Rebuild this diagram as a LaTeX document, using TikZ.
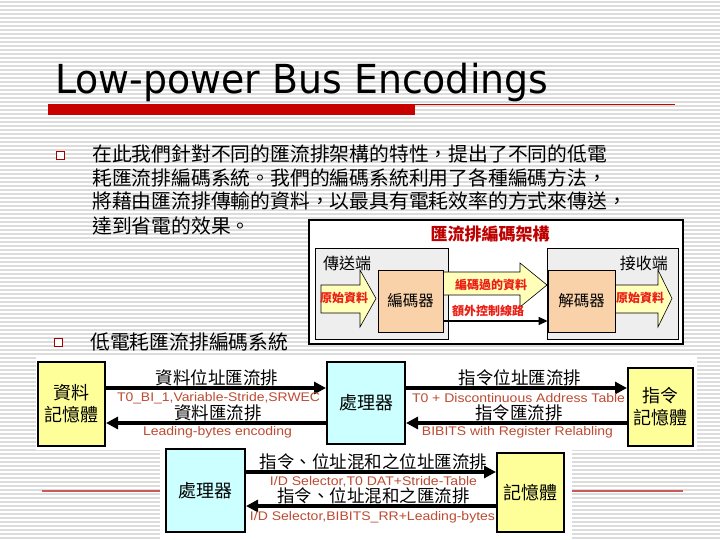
\documentclass[tikz,border=0pt]{standalone}
\usepackage{fontspec}
\usepackage{graphicx}
\setmainfont{Liberation Sans}
\newfontfamily\cjk{Noto Sans CJK TC}
\newfontfamily\titlefont{DejaVu Sans}
\usetikzlibrary{arrows.meta}
\definecolor{stripe}{RGB}{220,220,220}
\definecolor{barred}{RGB}{200,0,0}
\definecolor{lbl}{RGB}{190,75,50}
\definecolor{ylw}{RGB}{255,255,153}
\definecolor{cyn}{RGB}{204,255,255}
\definecolor{peach}{RGB}{250,210,170}
\definecolor{pgray}{RGB}{238,238,238}
\definecolor{arrowy}{RGB}{255,255,185}
\definecolor{hred}{RGB}{235,30,20}
\definecolor{titred}{RGB}{190,0,0}
\definecolor{strayred}{RGB}{200,90,90}
\newcommand{\fitw}[2]{\resizebox{#1}{\height}{#2}}
\tikzset{
  para/.style={anchor=west, inner sep=0, font=\cjk\fontsize{19.8}{22}\selectfont},
  cjkt/.style={inner sep=0, font=\cjk\fontsize{17.5}{21}\selectfont},
  lat/.style={inner sep=0, text=lbl, font=\fontsize{12.5}{14}\selectfont},
  bus/.style={line width=4pt, -{Triangle[length=12pt,width=12pt]}},
  ybox/.style={draw, line width=2pt, fill=ylw, align=center, inner sep=0, font=\cjk\fontsize{18}{22}\selectfont},
  cbox/.style={draw, line width=2pt, fill=cyn, align=center, inner sep=0, font=\cjk\fontsize{18}{22}\selectfont},
  gbox/.style={draw, line width=0.8pt, fill=pgray, inner sep=0},
  pbox/.style={draw, line width=0.8pt, fill=peach, inner sep=0, font=\cjk\fontsize{15.5}{18}\selectfont},
  blk/.style={draw, line width=0.6pt, fill=arrowy},
  hlbl/.style={inner sep=0, text=hred, font=\cjk\bfseries\fontsize{12}{14}\selectfont},
  sq/.style={draw=barred!80!black, line width=0.7pt, fill=white, minimum size=8pt, inner sep=0},
}
\begin{document}
\begin{tikzpicture}[x=1pt,y=-1pt]
\useasboundingbox (0,0) rectangle (720,540);
% background with stripes
\fill[white] (0,0) rectangle (720,540);
\foreach \i in {0,...,134} \draw[stripe, line width=1.3pt] (0,\i*4+2) -- (720,\i*4+2);
% stray red line
\draw[strayred, line width=1.2pt] (42,491) -- (683,491);
% white backgrounds of lower diagram
\fill[white] (36,357) rectangle (697,450);
\fill[white] (160,450) rectangle (572,540);

% title
\node[anchor=base west, inner sep=0] (title) at (55,94)
  {\titlefont\fontsize{40}{44}\selectfont\fitw{493pt}{Low-power Bus Encodings}};
\draw[barred, line width=1pt] (48,104.5) -- (675,104.5);
\fill[barred] (48,105) rectangle (415,115);

% bullets and text
\node[sq] (b1) at (60,155) {};
\node[para] (p1) at (92,154) {在此我們針對不同的匯流排架構的特性，提出了不同的低電};
\node[para] (p2) at (92,177.5) {耗匯流排編碼系統。我們的編碼系統利用了各種編碼方法，};
\node[para] (p3) at (92,201) {將藉由匯流排傳輸的資料，以最具有電耗效率的方式來傳送，};
\node[para] (p4) at (92,226) {達到省電的效果。};
\node[sq] (b2) at (58,342.5) {};
\node[para] (p5) at (90,342) {低電耗匯流排編碼系統};

% upper diagram
\node[draw, line width=1.2pt, fill=white, minimum width=374pt, minimum height=124pt, inner sep=0] (outer) at (496,282) {};
\node[inner sep=0, text=titred, font=\cjk\bfseries\fontsize{17}{20}\selectfont] (arch) at (490,234) {匯流排編碼架構};
\node[gbox, minimum width=133pt, minimum height=91pt] (send) at (381.5,293.5) {};
\node[gbox, minimum width=131pt, minimum height=91pt] (recv) at (612.5,293.5) {};
\node[anchor=west, inner sep=0, font=\cjk\fontsize{16}{18}\selectfont] (sendt) at (323,263) {傳送端};
\node[anchor=east, inner sep=0, font=\cjk\fontsize{16}{18}\selectfont] (recvt) at (668,263) {接收端};
\draw[blk] (321,285) -- (360,285) -- (360,270) -- (376,298.5) -- (360,327) -- (360,313) -- (321,313) -- cycle;
\draw[blk] (443,272) -- (520,272) -- (520,263) -- (547,285) -- (520,307) -- (520,295) -- (443,295) -- cycle;
\draw[blk] (615,285) -- (658,285) -- (658,270) -- (672,298.5) -- (658,327) -- (658,313) -- (615,313) -- cycle;
\node[pbox, minimum width=65pt, minimum height=62pt] (enc) at (410.5,301) {編碼器};
\node[pbox, minimum width=67pt, minimum height=62pt] (dec) at (581.5,301) {解碼器};
\node[hlbl] (raw1) at (344,298) {原始資料};
\node[hlbl] (raw2) at (640,298) {原始資料};
\node[hlbl] (encd) at (491,285) {編碼過的資料};
\node[hlbl] (ctrl) at (488,311) {額外控制線路};
\draw[line width=1.5pt, -{Triangle[length=9pt,width=8pt]}] ([yshift=-20pt]enc.east) -- ([yshift=-20pt]dec.west);

% lower diagram boxes
\node[ybox, minimum width=67pt, minimum height=84pt] (dmem) at (71.5,404) {資料\\記憶體};
\node[cbox, minimum width=78pt, minimum height=82pt] (cpu1) at (366,403) {處理器};
\node[ybox, minimum width=65pt, minimum height=78pt] (imem) at (660.5,407) {指令\\記憶體};
\node[cbox, minimum width=79pt, minimum height=83pt] (cpu2) at (205.5,490.5) {處理器};
\node[ybox, minimum width=67pt, minimum height=79pt] (mem) at (530.5,492.5) {記憶體};

\coordinate (r1) at (0,388);
\coordinate (r2) at (0,423);
\coordinate (r3) at (0,472);
\coordinate (r4) at (0,506);

\draw[bus] (dmem.east |- r1) -- (cpu1.west |- r1);
\draw[bus] (cpu1.west |- r2) -- (dmem.east |- r2);
\draw[bus] (cpu1.east |- r1) -- (imem.west |- r1);
\draw[bus] (imem.west |- r2) -- (cpu1.east |- r2);
\draw[bus] (cpu2.east |- r3) -- (mem.west |- r3);
\draw[bus] (mem.west |- r4) -- (cpu2.east |- r4);

% labels
\node[cjkt] (l1) at (217,378) {資料位址匯流排};
\node[lat] (l2) at (218.5,398) {\fitw{203pt}{T0\_BI\_1,Variable-Stride,SRWEC}};
\node[cjkt] (l3) at (218,413) {資料匯流排};
\node[lat] (l4) at (217.5,432) {\fitw{149pt}{Leading-bytes encoding}};
\node[cjkt] (l5) at (520,378) {指令位址匯流排};
\node[lat] (l6) at (518.5,398) {\fitw{213pt}{T0 + Discontinuous Address Table}};
\node[cjkt] (l7) at (519,413) {指令匯流排};
\node[lat] (l8) at (517.5,432) {\fitw{191pt}{BIBITS with Register Relabling}};
\node[cjkt] (l9) at (373.5,462) {指令、位址混和之位址匯流排};
\node[lat] (l10) at (373.5,482) {\fitw{207pt}{I/D Selector,T0 DAT+Stride-Table}};
\node[cjkt] (l11) at (373.5,496) {指令、位址混和之匯流排};
\node[lat] (l12) at (372.5,517) {\fitw{245pt}{I/D Selector,BIBITS\_RR+Leading-bytes}};
\end{tikzpicture}
\end{document}
